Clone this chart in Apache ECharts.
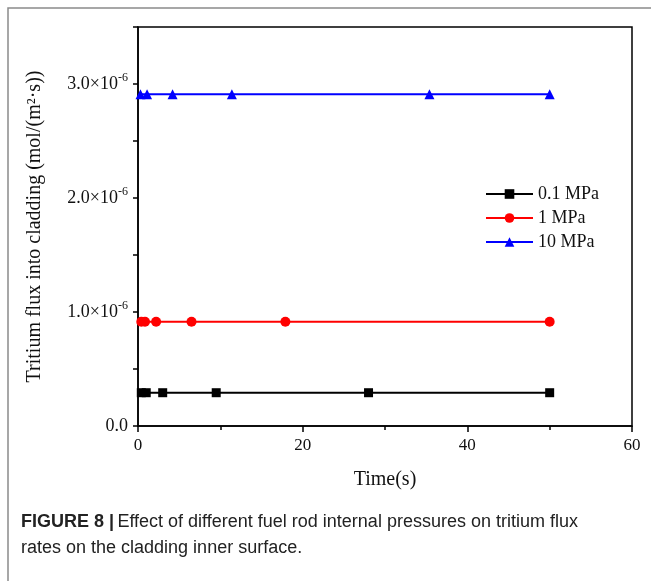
<!DOCTYPE html>
<html><head><meta charset="utf-8">
<script src="https://cdn.jsdelivr.net/npm/echarts@6/dist/echarts.min.js"></script>
<style>html,body{margin:0;padding:0;background:#fff}#c{width:651px;height:581px}</style>
</head><body><div id="c"></div>
<script>
const seriesNames = ['0.1 MPa', '1 MPa', '10 MPa'];
const timeBlack = [0.4, 1, 3, 9.5, 28, 50];
const fluxBlack = [2.92e-7, 2.92e-7, 2.92e-7, 2.92e-7, 2.92e-7, 2.92e-7];
const timeRed = [0.4, 0.85, 2.2, 6.5, 17.9, 50];
const fluxRed = [9.15e-7, 9.15e-7, 9.15e-7, 9.15e-7, 9.15e-7, 9.15e-7];
const timeBlue = [0.3, 1.1, 4.2, 11.4, 35.4, 50];
const fluxBlue = [2.91e-6, 2.91e-6, 2.91e-6, 2.91e-6, 2.91e-6, 2.91e-6];
const yTickLabels = {0: '0.0', 1: '1.0×10', 2: '2.0×10', 3: '3.0×10'};
const xTickLabels = ['0', '20', '40', '60'];

const serif = '"Liberation Serif", "DejaVu Serif", serif';
const sans = '"Liberation Sans Narrow", "Liberation Sans", Arial, sans-serif';
const zip = (xs, ys) => xs.map((x, i) => [x, ys[i]]);

const chart = echarts.init(document.getElementById('c'), null, {renderer: 'canvas'});
chart.setOption({
  animation: false,
  backgroundColor: '#fff',
  grid: {left: 138, top: 27, width: 494, height: 399, show: true, borderColor: '#000', borderWidth: 1.5, backgroundColor: 'transparent'},
  xAxis: {
    type: 'value', min: 0, max: 60, interval: 20,
    name: 'Time(s)', nameLocation: 'middle', nameGap: 44,
    nameTextStyle: {fontFamily: serif, fontSize: 20, color: '#111'},
    axisLine: {show: true, lineStyle: {color: '#000', width: 1.5}},
    axisTick: {show: true, inside: false, length: 6, lineStyle: {color: '#000', width: 1.5}},
    minorTick: {show: true, splitNumber: 2, length: 4, lineStyle: {color: '#000', width: 1.5}},
    splitLine: {show: false},
    axisLabel: {fontFamily: serif, fontSize: 17, color: '#111', margin: 11,
      formatter: v => xTickLabels.includes(String(Math.round(v))) ? String(Math.round(v)) : ''}
  },
  yAxis: {
    type: 'value', min: 0, max: 3.5e-6, interval: 0.5e-6,
    name: 'Tritium flux into cladding (mol/(m²·s))', nameLocation: 'middle', nameGap: 93,
    nameTextStyle: {fontFamily: serif, fontSize: 20, color: '#111'},
    axisLine: {show: true, lineStyle: {color: '#000', width: 1.5}},
    axisTick: {show: true, inside: false, length: 5, lineStyle: {color: '#000', width: 1.5}},
    splitLine: {show: false},
    axisLabel: {
      fontFamily: serif, fontSize: 18, color: '#111', margin: 10,
      formatter: v => {
        const k = Math.round(v * 2e6);
        if (k % 2 !== 0) return '';
        const n = k / 2;
        if (n === 0) return '{b|' + yTickLabels[0] + '}';
        if (yTickLabels[n] === undefined) return '';
        return '{b|' + yTickLabels[n] + '}{s|-6}';
      },
      rich: {
        b: {fontFamily: serif, fontSize: 18, color: '#111'},
        s: {fontFamily: serif, fontSize: 12, color: '#111', padding: [0, 0, 12, 0]}
      }
    }
  },
  legend: {
    left: 485, top: 185, orient: 'vertical', padding: 0, itemGap: 6, itemWidth: 47, itemHeight: 12,
    data: seriesNames,
    textStyle: {fontFamily: serif, fontSize: 18, color: '#111'}
  },
  series: [
    {name: seriesNames[0], type: 'line', data: zip(timeBlack, fluxBlack), symbol: 'rect', symbolSize: 9,
      itemStyle: {color: '#000'}, lineStyle: {color: '#000', width: 2}},
    {name: seriesNames[1], type: 'line', data: zip(timeRed, fluxRed), symbol: 'circle', symbolSize: 10,
      itemStyle: {color: '#f00'}, lineStyle: {color: '#f00', width: 2}},
    {name: seriesNames[2], type: 'line', data: zip(timeBlue, fluxBlue), symbol: 'triangle', symbolSize: 10,
      itemStyle: {color: '#00f'}, lineStyle: {color: '#00f', width: 2}}
  ],
  graphic: [
    {type: 'polyline', shape: {points: [[8, 600], [8, 8], [660, 8]]}, style: {stroke: '#8a8a8a', lineWidth: 1.5, fill: null}},
    {type: 'text', left: 21, top: 513, style: {
      text: '{h|FIGURE 8 |} {t|Effect of different fuel rod internal pressures on tritium flux}',
      rich: {
        h: {fontFamily: sans, fontWeight: 'bold', fontSize: 18, fill: '#222'},
        t: {fontFamily: sans, fontSize: 18, fill: '#222'}
      }}},
    {type: 'text', left: 21, top: 539, style: {
      text: 'rates on the cladding inner surface.',
      fontFamily: sans, fontSize: 18, fill: '#222'}}
  ]
});
</script></body></html>
